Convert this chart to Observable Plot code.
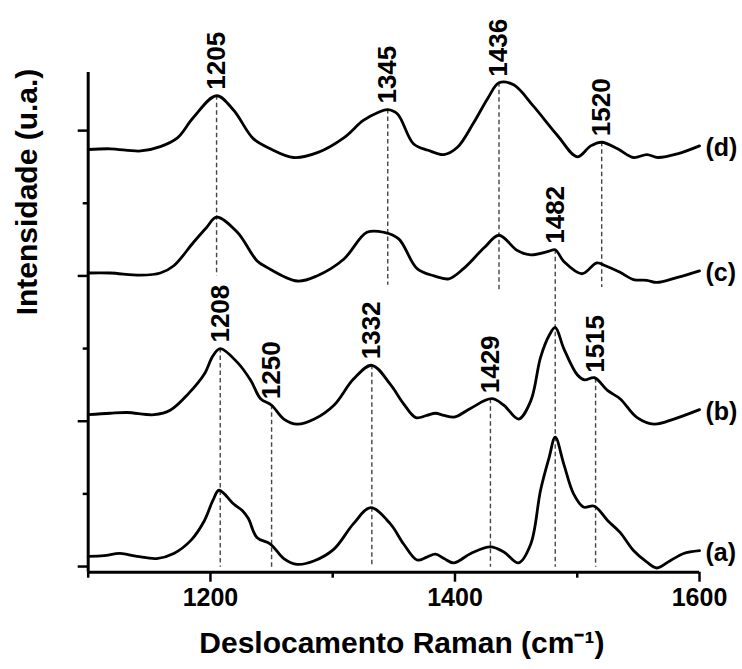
<!DOCTYPE html>
<html><head><meta charset="utf-8">
<script src="https://cdn.jsdelivr.net/npm/d3@7"></script>
<script src="https://cdn.jsdelivr.net/npm/@observablehq/plot@0.6"></script>
<style>html,body{margin:0;padding:0;background:#fff;overflow:hidden}</style>
</head><body><div id="chart"></div>
<script>
// Raman shift (cm-1) and intensity (a.u., stacked) for each spectrum
const aX = [1100,1113,1126,1140,1156,1170,1184,1195,1202,1207,1219,1226,1231,1238,1249,1260,1271,1285,1301,1317,1331,1347,1358,1369,1377,1384,1391,1399,1413,1429,1440,1452,1462,1470,1477,1482,1489,1497,1505,1514,1525,1535,1546,1557,1565,1576,1587,1600];
const aY = [0.14,0.15,0.18,0.14,0.11,0.18,0.36,0.63,0.91,1.05,0.86,0.77,0.66,0.40,0.31,0.11,0.03,0.08,0.24,0.59,0.81,0.59,0.31,0.09,0.13,0.17,0.11,0.05,0.18,0.27,0.20,0.05,0.31,1.05,1.50,1.78,1.41,1.00,0.82,0.83,0.63,0.47,0.22,0.06,-0.02,0.08,0.18,0.22];

const bX = [1100,1118,1132,1154,1167,1182,1195,1202,1208,1222,1233,1241,1250,1260,1271,1285,1301,1317,1332,1347,1358,1368,1377,1384,1391,1400,1413,1430,1440,1452,1462,1470,1477,1482,1489,1500,1506,1514,1525,1535,1549,1563,1579,1600];
const bY = [2.09,2.11,2.12,2.09,2.15,2.38,2.65,2.90,3.00,2.81,2.56,2.31,2.22,2.03,1.96,2.03,2.22,2.58,2.77,2.51,2.24,2.05,2.08,2.11,2.08,2.06,2.18,2.31,2.22,2.03,2.28,2.88,3.18,3.29,3.00,2.64,2.57,2.60,2.42,2.31,2.05,1.96,2.03,2.16];

const cX = [1100,1118,1143,1159,1170,1186,1197,1205,1222,1238,1246,1271,1287,1309,1328,1342,1354,1369,1383,1395,1407,1424,1436,1451,1462,1477,1482,1489,1504,1516,1523,1535,1546,1557,1565,1582,1600];
const cY = [4.04,4.04,4.01,4.04,4.14,4.46,4.67,4.81,4.60,4.21,4.12,3.93,4.00,4.23,4.60,4.60,4.51,4.10,4.00,3.96,4.10,4.39,4.56,4.35,4.29,4.34,4.36,4.20,4.03,4.18,4.14,4.05,3.95,3.94,3.91,3.98,4.07];

const dX = [1100,1118,1143,1159,1173,1186,1205,1219,1235,1249,1268,1288,1309,1325,1337,1345,1353,1366,1378,1391,1402,1415,1427,1436,1448,1464,1484,1500,1511,1520,1533,1546,1557,1566,1582,1600];
const dY = [5.74,5.75,5.72,5.78,5.90,6.18,6.48,6.28,5.89,5.75,5.63,5.70,5.90,6.14,6.25,6.29,6.23,5.82,5.73,5.67,5.77,6.10,6.45,6.66,6.63,6.34,5.93,5.64,5.79,5.84,5.75,5.63,5.67,5.63,5.68,5.79];

const seriesKeys = ["a","b","c","d"];
const seriesLabels = ["(a)","(b)","(c)","(d)"];

// Marked bands: position, spectrum it is read from, lower end of the dashed guide
const peakPos = [1205,1345,1436,1520,1482,1208,1250,1332,1429,1515];
const peakCurve = ["d","d","d","d","c","b","b","b","b","b"];
const peakBottom = [4.00,3.87,3.80,3.84,-0.01,-0.01,-0.01,-0.01,-0.01,-0.01];

const xMajorTicks = [1200,1400,1600];
const xMinorTicks = [1100,1300,1500];
const yMajorTicks = [0,2,4,6];
const yMinorTicks = [1,3,5];

const xTitle = "Deslocamento Raman (cm⁻¹)";
const yTitle = "Intensidade (u.a.)";

const curves = {a: [aX, aY], b: [bX, bY], c: [cX, cY], d: [dX, dY]};
const rows = [];
for (const k of seriesKeys) {
  const [xs, ys] = curves[k];
  xs.forEach((x, i) => rows.push({series: k, x, y: ys[i]}));
}
function interp(k, x) {
  const [xs, ys] = curves[k];
  for (let i = 0; i < xs.length - 1; i++) {
    if (x >= xs[i] && x <= xs[i + 1]) {
      const t = (x - xs[i]) / (xs[i + 1] - xs[i]);
      return ys[i] + t * (ys[i + 1] - ys[i]);
    }
  }
  return ys[ys.length - 1];
}
const peaks = peakPos.map((p, i) => ({pos: p, top: interp(peakCurve[i], p), bottom: peakBottom[i]}));
const ends = seriesKeys.map((k, i) => ({label: seriesLabels[i], x: curves[k][0][curves[k][0].length - 1], y: curves[k][1][curves[k][1].length - 1]}));

const W = 742, H = 669;
const plot = Plot.plot({
  width: W, height: H,
  marginLeft: 87.7, marginRight: 43, marginTop: 72, marginBottom: 97.3,
  style: {fontFamily: "'Liberation Sans', Arial, sans-serif", fontWeight: "bold", background: "white", color: "black"},
  x: {domain: [1100, 1600]},
  y: {domain: [-0.078, 6.8]},
  marks: [
    Plot.ruleX(peaks, {x: "pos", y1: "top", y2: "bottom", stroke: "#444", strokeWidth: 1.4, strokeDasharray: "4.5,3"}),
    Plot.axisY(yMajorTicks, {tickSize: 10, tickFormat: () => "", strokeWidth: 2.5, label: null}),
    Plot.axisY(yMinorTicks, {tickSize: 5, tickFormat: () => "", strokeWidth: 2.5, label: null}),
    Plot.axisX(xMajorTicks, {tickSize: 10, tickPadding: 6, tickFormat: d => String(d), strokeWidth: 2.5, fontSize: 25, fontWeight: "bold", label: null}),
    Plot.axisX(xMinorTicks, {tickSize: 6, tickFormat: () => "", strokeWidth: 2.5, label: null}),
    Plot.ruleX([1100], {strokeWidth: 3}),
    Plot.ruleY([-0.078], {strokeWidth: 3}),
    Plot.line(rows, {x: "x", y: "y", z: "series", curve: "catmull-rom", stroke: "black", strokeWidth: 2.8}),
    Plot.text(peaks, {x: "pos", y: "top", text: d => String(d.pos), rotate: -90, textAnchor: "start", dy: -6, fontSize: 26, fontWeight: "bold"}),
    Plot.text(ends, {x: "x", y: "y", text: "label", textAnchor: "start", dx: 6, dy: 2, fontSize: 25, fontWeight: "bold"}),
    Plot.text([xTitle], {text: d => d, frameAnchor: "bottom", dx: 8, dy: 80.5, fontSize: 30, fontWeight: "bold"}),
    Plot.text([yTitle], {text: d => d, frameAnchor: "left", rotate: -90, dx: -61, dy: -7, fontSize: 30, fontWeight: "bold"})
  ]
});
document.getElementById("chart").appendChild(plot);
</script>
</body></html>
